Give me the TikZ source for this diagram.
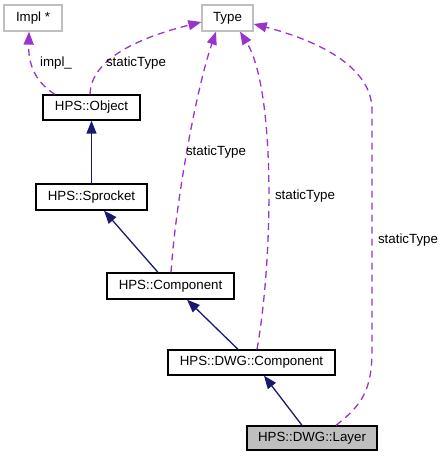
\documentclass[tikz,border=0pt]{standalone}
\usepackage{fontspec}
\setmainfont{Liberation Sans}
\usetikzlibrary{arrows.meta}
\definecolor{navy}{HTML}{191970}
\definecolor{orch}{HTML}{9A32CD}
\definecolor{grayb}{HTML}{BFBFBF}
\begin{document}
\begin{tikzpicture}[x=1pt,y=-1pt,
  every node/.style={font=\fontsize{13.3}{15}\selectfont, inner sep=0pt},
  cls/.style={draw=black, line width=1.3pt, fill=white},
  ext/.style={draw=grayb, line width=1.3pt, fill=white},
  inh/.style={draw=navy, line width=1.3pt, -{Triangle[length=13pt,width=10pt]}},
  use/.style={draw=orch, line width=1.3pt, dash pattern=on 7pt off 5pt, -{Triangle[length=13pt,width=10pt]}},
  lbl/.style={fill=none}]
\useasboundingbox (0,0) rectangle (444,457);
\node[ext, minimum width=58pt, minimum height=26pt] (impl) at (33,18) {Impl *};
\node[ext, minimum width=51pt, minimum height=26pt] (type) at (227.5,18) {Type};
\node[cls, minimum width=97pt, minimum height=25pt] (obj) at (91.5,107.5) {HPS::Object};
\node[cls, minimum width=111pt, minimum height=26pt] (spr) at (91.5,197) {HPS::Sprocket};
\node[cls, minimum width=127pt, minimum height=26pt] (comp) at (170.5,286) {HPS::Component};
\node[cls, minimum width=167pt, minimum height=25pt] (dwgc) at (251.5,362.5) {HPS::DWG::Component};
\node[cls, fill=grayb, minimum width=130pt, minimum height=24pt] (layer) at (312,438) {HPS::DWG::Layer};

% inheritance
\draw[inh] (spr.north) -- (obj.south);
\draw[inh] (comp.north -| 158,0) -- (spr.south -| 104,0);
\draw[inh] (dwgc.north -| 238,0) -- (comp.south -| 187,0);
\draw[inh] (layer.north -| 302,0) -- (dwgc.south -| 264,0);

% usage
\draw[use] (obj.north -| 55,0) .. controls (40,85) and (28,70) .. (impl.south -| 29,0);
\draw[use] (obj.north -| 90,0) .. controls (91,55) and (150,35) .. (type.west |- 0,22);
\draw[use] (comp.north -| 171,0) .. controls (176,200) and (196,90) .. (type.south -| 216,0);
\draw[use] (dwgc.north -| 257,0) .. controls (273,260) and (276,90) .. (type.south -| 240,0);
\draw[use] (layer.north -| 336,0) .. controls (362,405) and (372,390) .. (372,350) -- (372,110) .. controls (372,60) and (300,36) .. (type.east |- 0,24);

\node[lbl] (l1) at (56,63) {impl\_};
\node[lbl] (l2) at (136,63) {staticType};
\node[lbl] (l3) at (216,152) {staticType};
\node[lbl] (l4) at (305,196) {staticType};
\node[lbl] (l5) at (408,240) {staticType};
\end{tikzpicture}
\end{document}
